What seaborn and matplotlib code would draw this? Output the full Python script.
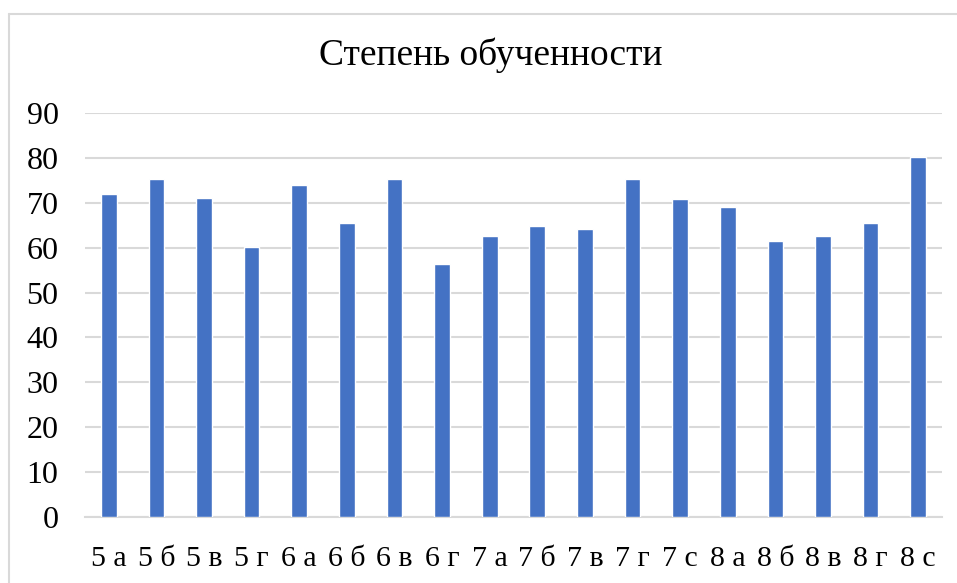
import matplotlib
matplotlib.use("Agg")
import matplotlib.pyplot as plt
from matplotlib.lines import Line2D
import seaborn as sns
import pandas as pd

classes = ["5 а", "5 б", "5 в", "5 г", "6 а", "6 б", "6 в", "6 г", "7 а", "7 б",
           "7 в", "7 г", "7 с", "8 а", "8 б", "8 в", "8 г", "8 с"]
scores = [71.9, 75.4, 71.0, 60.2, 73.9, 65.6, 75.4, 56.3, 62.6, 64.8,
          64.2, 75.4, 70.8, 69.1, 61.4, 62.6, 65.4, 80.2]
y_ticks = [0, 10, 20, 30, 40, 50, 60, 70, 80, 90]
title = "Степень обученности"

df = pd.DataFrame({"class": classes, "score": scores})

sns.set_theme(style="white")
plt.rcParams["font.family"] = ["Liberation Serif", "DejaVu Serif"]

W, H = 957, 583
fig = plt.figure(figsize=(W / 100, H / 100), dpi=100)
ax = fig.add_axes([85 / W, 1 - 517 / H, (942 - 85) / W, (517 - 113) / H])

sns.barplot(data=df, x="class", y="score", color="#4472C4", width=0.33,
            saturation=1, ax=ax, zorder=3)

ax.set_ylim(0, 90)
ax.set_yticks(y_ticks)
ax.set_xlim(-0.5, len(classes) - 0.5)
ax.yaxis.grid(True, color="#d9d9d9", linewidth=1.5, zorder=0)
ax.xaxis.grid(False)
for side in ["top", "right", "left"]:
    ax.spines[side].set_visible(False)
ax.spines["bottom"].set_color("#d9d9d9")
ax.spines["bottom"].set_linewidth(1.5)
ax.set_xlabel("")
ax.set_ylabel("")
ax.tick_params(axis="both", length=0, labelcolor="#000000")
ax.tick_params(axis="y", labelsize=23, pad=19)
ax.tick_params(axis="x", labelsize=21.5, pad=21)

fig.text(491 / W, 1 - 55 / H, title, ha="center", va="center", fontsize=27,
         color="#000000")

# light frame lines along the top and left edges of the chart area
frame_x = 9 / W
frame_y = 1 - 14 / H
fig.add_artist(Line2D([frame_x, 1.0], [frame_y, frame_y], transform=fig.transFigure,
                      color="#d9d9d9", linewidth=1.5))
fig.add_artist(Line2D([frame_x, frame_x], [0.0, frame_y], transform=fig.transFigure,
                      color="#d9d9d9", linewidth=1.5))

fig.savefig("out.png", dpi=100, facecolor="white")
